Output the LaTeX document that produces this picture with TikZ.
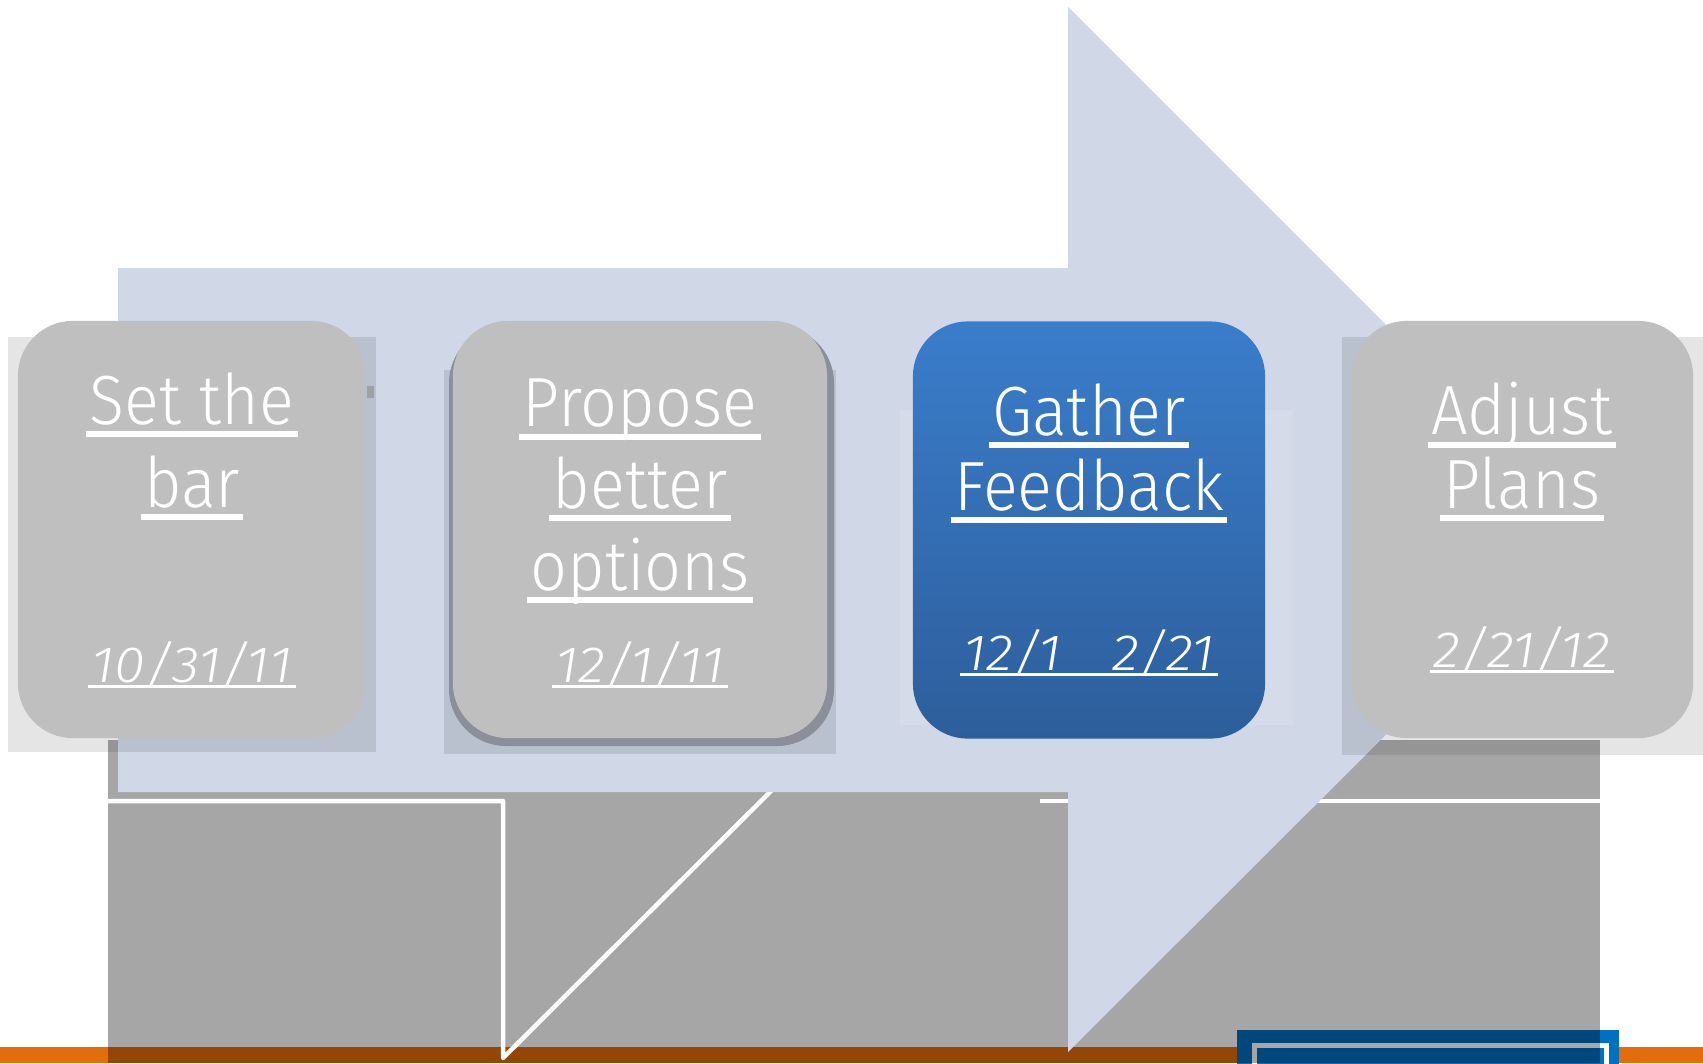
\documentclass[tikz,border=0pt]{standalone}
\usepackage{fontspec}
\IfFontExistsTF{Fira Sans Light}{\def\basefont{Fira Sans Light}}{%
  \IfFontExistsTF{Open Sans Light}{\def\basefont{Open Sans Light}}{\def\basefont{Fira Sans}}}
\setmainfont{\basefont}
\newfontfamily\ttlfont{\basefont}[FakeStretch=0.93]
\newfontfamily\datefont{\basefont}[FakeStretch=1.1]
\definecolor{arrowc}{RGB}{208,215,230}
\definecolor{boxgray}{RGB}{191,191,191}
\definecolor{orng}{RGB}{228,108,10}
\definecolor{bluebox}{RGB}{0,112,192}
\definecolor{fbtop}{RGB}{58,125,203}
\definecolor{fbbot}{RGB}{45,94,155}
\definecolor{shadowline}{RGB}{138,143,153}
\newsavebox\ulbox
\newcommand\hul[1]{\sbox\ulbox{#1}\leavevmode\rlap{\kern-1pt\rule[-3.6pt]{\dimexpr\wd\ulbox+2pt\relax}{1.6pt}}\usebox\ulbox}
\newcommand\dul[1]{\sbox\ulbox{#1}\leavevmode\rlap{\kern-1pt\rule[-1.7pt]{\dimexpr\wd\ulbox+2pt\relax}{0.85pt}}\usebox\ulbox}
\tikzset{
  stepbox/.style={rectangle, rounded corners=0.55cm, minimum width=3.48cm, minimum height=4.17cm, inner sep=0pt},
  graybox/.style={stepbox, fill=boxgray},
  ttl/.style={text=white, align=center, inner sep=0pt, anchor=base, font=\ttlfont\fontsize{19.8}{#1}\selectfont},
  dt/.style={text=white, inner sep=0pt, anchor=base, font=\datefont\fontsize{14.5}{17}\selectfont\itshape},
  haze/.style={fill=black, fill opacity=0.1},
  glowline/.style={draw=white, line width=0.045cm, line join=round}
}
\begin{document}
\begin{tikzpicture}[x=0.01cm,y=-0.01cm]
\useasboundingbox (0,0) rectangle (1703,1063);
\fill[white] (0,0) rectangle (1703,1063);
% bottom orange bar
\fill[orng] (0,1047) rectangle (1703,1063);
% blue box at bottom right
\fill[bluebox] (1237,1030) rectangle (1619,1070);
\draw[white, line width=0.05cm] (1254,1075) -- (1254,1045) -- (1606,1045) -- (1606,1075);
% gray translucent block
\fill[black, fill opacity=0.35] (108,740) rectangle (1600,1063);
% white lines on the gray block
\draw[glowline] (108,801) -- (503,801) -- (503,1058) -- (776,786);
\draw[glowline] (1040,801) -- (1600,801);
% big arrow
\fill[arrowc] (118,268) -- (1068,268) -- (1068,7) -- (1591,530) -- (1068,1052) -- (1068,792) -- (118,792) -- cycle;
% hazes behind boxes
\fill[haze] (8,337) rectangle (376,752);
\fill[black!40, fill opacity=0.8] (367,386) rectangle (374,398);
\fill[haze] (444,370) rectangle (836,754);
\fill[white, fill opacity=0.12] (900,410) rectangle (1293,725);
\fill[haze] (1342,337) rectangle (1703,755);
\fill[shadowline, rounded corners=0.57cm] (449,326) rectangle (834,746);
% boxes
\node[graybox] (b1) at (192,529.5) {};
\node[graybox, minimum width=3.74cm] (b2) at (640,529.5) {};
\node[stepbox, minimum width=3.52cm, top color=fbtop, bottom color=fbbot] (b3) at (1089,530) {};
\node[graybox, minimum width=3.41cm] (b4) at (1522.5,529.5) {};
% titles (anchored at the baseline of the last line)
\node[ttl=23.5pt] (t1) at (192,507) {\hul{Set the}\\\hul{bar}};
\node[ttl=23.2pt] (t2) at (640,590) {\hul{Propose}\\\hul{better}\\\hul{options}};
\node[ttl=21.3pt] (t3) at (1089,510) {\hul{Gather}\\\hul{Feedback}};
\node[ttl=20.8pt] (t4) at (1522,508) {\hul{Adjust}\\\hul{Plans}};
% dates
\node[dt] (d1) at (192,682) {\dul{10/31/11}};
\node[dt] (d2) at (640,682) {\dul{12/1/11}};
\node[dt] (d3) at (1089,670) {\dul{12/1\quad 2/21}};
\node[dt] (d4) at (1522,667) {\dul{2/21/12}};
\end{tikzpicture}
\end{document}
